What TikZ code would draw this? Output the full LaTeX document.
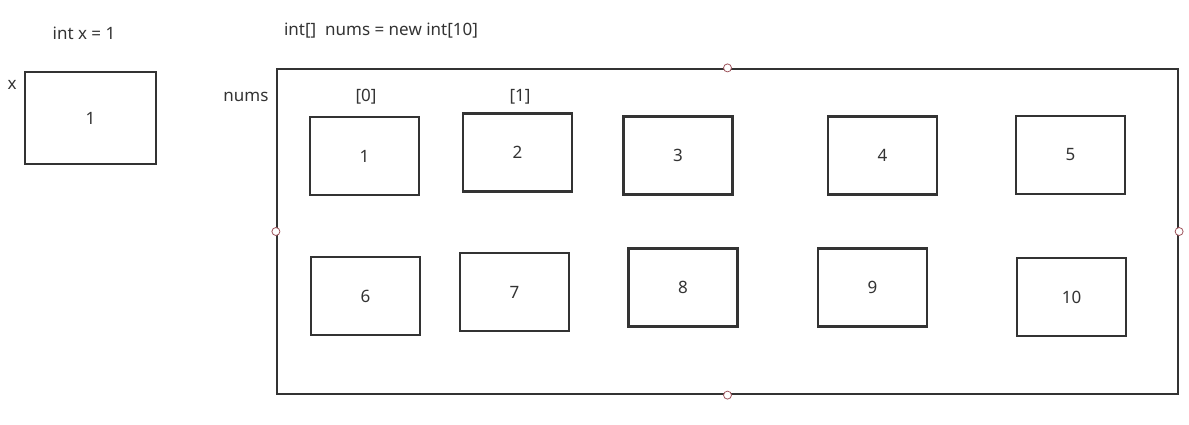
\documentclass[tikz,border=0pt]{standalone}
\usepackage{fontspec}
\setmainfont{Noto Sans}
\usepackage{xcolor}
\definecolor{ink}{rgb}{0.2,0.2,0.2}
\definecolor{grip}{rgb}{0.62,0.33,0.36}
\usepackage{tikz}
\usetikzlibrary{positioning}
\tikzset{
  cell/.style={rectangle,draw=ink,line width=2.5pt,minimum width=109pt,minimum height=78pt,inner sep=0pt,text=ink},
  var/.style={rectangle,draw=ink,line width=2.5pt,minimum width=131pt,minimum height=92pt,inner sep=0pt,text=ink},
  arr/.style={rectangle,draw=ink,line width=2.2pt,minimum width=901pt,minimum height=325pt,inner sep=0pt},
  handle/.style={circle,draw=grip,fill=white,line width=0.8pt,minimum size=8pt,inner sep=0pt},
  lbl/.style={text=ink,inner sep=0pt},
}

\begin{document}
\begin{tikzpicture}[x=1pt,y=-1pt,font=\fontsize{17}{20}\selectfont]
    \useasboundingbox (0,0) rectangle (1189,424);

    % int x = 1
    \node[lbl] (decx) at (84,33) {int x = 1};
    \node[var] (x) at (90.5,118) {1};
    \node[lbl] (xname) at (12,85) {x};

    % int[] nums = new int[10]
    \node[lbl] (decnums) at (381,31) {int[]\ \ nums = new int[10]};
    \node[arr] (nums) at (727.5,231.5) {};
    \node[lbl] (numsname) at (246,97) {nums};

    \node[cell] (c1) at (364.5,156) {1};
    \node[cell] (c2) at (517.5,152.5) {2};
    \node[cell] (c3) at (678,155.5) {3};
    \node[cell] (c4) at (882.5,155.5) {4};
    \node[cell] (c5) at (1070.5,155) {5};
    \node[cell] (c6) at (365.5,296) {6};
    \node[cell] (c7) at (514.5,292) {7};
    \node[cell] (c8) at (683,287.5) {8};
    \node[cell] (c9) at (872.5,287.5) {9};
    \node[cell] (c10) at (1071.5,297) {10};

    \node[lbl] (i0) at (366,97) {[0]};
    \node[lbl] (i1) at (520,97) {[1]};

    \node[handle] (hn) at (nums.north) {};
    \node[handle] (hs) at (nums.south) {};
    \node[handle] (hw) at (nums.west) {};
    \node[handle] (he) at (nums.east) {};

\end{tikzpicture}
\end{document}
